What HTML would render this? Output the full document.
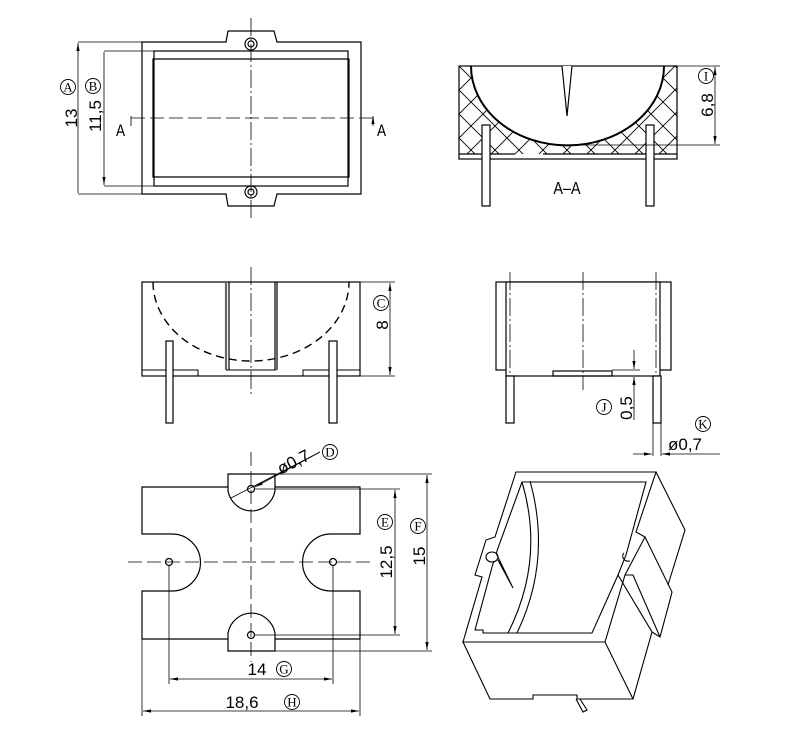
<!DOCTYPE html>
<html><head><meta charset="utf-8"><style>
html,body{margin:0;padding:0;background:#fff}
svg{display:block}
text{font-family:"Liberation Sans",sans-serif;fill:#000}
.c text{font-family:"Liberation Serif",serif}
</style></head><body>
<svg width="800" height="738" viewBox="0 0 800 738" xmlns="http://www.w3.org/2000/svg">
<defs>
<pattern id="hx" width="24" height="24" patternUnits="userSpaceOnUse" patternTransform="translate(459 66)">
<path d="M0 0L24 24M24 0L0 24" stroke="#000" stroke-width="0.9"/>
</pattern>
<marker id="ar" viewBox="0 0 10 10" refX="10" refY="5" markerWidth="8" markerHeight="8" orient="auto-start-reverse" markerUnits="userSpaceOnUse"><path d="M0 3L10 5L0 7z" fill="#000"/></marker>
<clipPath id="secclip"><rect x="459" y="66" width="218" height="88"/></clipPath>
</defs>
<g fill="none" stroke="#000" stroke-width="1.2">
<!-- TOP VIEW -->
<path d="M142 42H226L228 31H274L277 42H361V194H277L274 206H228L226 194H142Z"/>
<circle cx="251" cy="44" r="6"/><circle cx="251" cy="44" r="3"/>
<circle cx="251" cy="192" r="6"/><circle cx="251" cy="192" r="3"/>
<rect x="154" y="51" width="194" height="135"/>
<path d="M153 59H349V177H153Z"/>
<path d="M251 18V218" stroke-width="0.8" stroke-dasharray="18 3 2 3"/>
<path d="M131 118H373" stroke-width="0.8" stroke-dasharray="14 5"/>
<path d="M78 42H142M78 194H142M104 51H154M104 186H154" stroke-width="0.8"/>
<path d="M78 43V193M104 52V185" stroke-width="0.8" marker-start="url(#ar)" marker-end="url(#ar)"/>
<path d="M131 126V116M373 126V116" stroke-width="0.8" marker-end="url(#ar)"/>
<circle cx="68" cy="87" r="7.5" stroke-width="0.9"/><circle cx="93" cy="86" r="7.5" stroke-width="0.9"/>

<!-- SECTION A-A -->
<g clip-path="url(#secclip)">
<path d="M459 66H677V154H459Z M471 66A96 79 0 0 0 664 66Z" fill="url(#hx)" fill-rule="evenodd" stroke="none"/>
</g>
<rect x="459" y="66" width="218" height="93"/>
<path d="M459 154H515M543 154H677"/>
<path d="M471 66A96 79 0 0 0 664 66" stroke-width="2"/>
<path d="M562 66L567 116L572 66" fill="#fff"/>
<rect x="482" y="125" width="8" height="81" fill="#fff"/>
<rect x="646" y="125" width="8" height="81" fill="#fff"/>
<path d="M677 66H720M567 145H720" stroke-width="0.8"/>
<path d="M715 67V144" stroke-width="0.8" marker-start="url(#ar)" marker-end="url(#ar)"/>
<circle cx="706" cy="76" r="7.5" stroke-width="0.9"/>

<!-- FRONT VIEW -->
<rect x="142" y="282" width="218" height="94"/>
<path d="M226 282V370" stroke="#666" stroke-width="2.2"/>
<path d="M229 282V370M275 282V370M277 282V370"/>
<path d="M226 370H276M142 370H198V376M303 376V370H360" stroke-width="1"/>
<path d="M153 282A98 79 0 0 0 349 282" stroke-width="1.4" stroke-dasharray="8 5"/>
<path d="M251 267V395" stroke-width="0.8" stroke-dasharray="18 3 2 3"/>
<rect x="166" y="341" width="7" height="82" fill="#fff"/>
<rect x="329" y="341" width="8" height="82" fill="#fff"/>
<path d="M360 282H395M360 376H395" stroke-width="0.8"/>
<path d="M390 283V375" stroke-width="0.8" marker-start="url(#ar)" marker-end="url(#ar)"/>
<circle cx="381" cy="303" r="7.5" stroke-width="0.9"/>

<!-- SIDE VIEW -->
<rect x="496" y="282" width="175" height="88"/>
<rect x="506" y="282" width="154" height="94" fill="#fff"/>
<rect x="553" y="371" width="59" height="5"/>
<path d="M510 272V390M583 272V390M656 272V390" stroke-width="0.8" stroke-dasharray="18 3 2 3"/>
<rect x="506" y="376" width="8" height="47" fill="#fff"/>
<rect x="653" y="376" width="8" height="47" fill="#fff"/>
<path d="M612 370H640M612 376H640" stroke-width="0.8"/>
<path d="M634 350V369" stroke-width="0.8" marker-end="url(#ar)"/>
<path d="M634 420V377" stroke-width="0.8" marker-end="url(#ar)"/>
<circle cx="604" cy="407" r="7.5" stroke-width="0.9"/>
<path d="M653 423V456M661 423V456" stroke-width="0.8"/>
<path d="M633 454H652" stroke-width="0.8" marker-end="url(#ar)"/>
<path d="M720 454H662" stroke-width="0.8" marker-end="url(#ar)"/>
<circle cx="703" cy="424" r="7.5" stroke-width="0.9"/>

<!-- BOTTOM VIEW -->
<path d="M228 487H142V534H172A28 28 0 0 1 172 591H142V639H228M275 639H360V591H331A28 28 0 0 1 331 534H360V487H275"/>
<path d="M228 474H275V491A24 25 0 0 1 228 491Z"/>
<path d="M228 651H275V633A24 25 0 0 0 228 633Z"/>
<circle cx="251" cy="489" r="3.5"/><circle cx="251" cy="635" r="3.5"/>
<circle cx="169" cy="562" r="3.5"/><circle cx="333" cy="562" r="3.5"/>
<path d="M128 562H372" stroke-width="0.8" stroke-dasharray="14 5"/>
<path d="M251 452V662" stroke-width="0.8" stroke-dasharray="14 5"/>
<path d="M255 489H400M255 635H400M275 474H432M275 651H432" stroke-width="0.8"/>
<path d="M395 490V634" stroke-width="0.8" marker-start="url(#ar)" marker-end="url(#ar)"/>
<path d="M427 475V650" stroke-width="0.8" marker-start="url(#ar)" marker-end="url(#ar)"/>
<path d="M169 566V684M333 566V684M142 639V716M360 639V716" stroke-width="0.8"/>
<path d="M170 679H332" stroke-width="0.8" marker-start="url(#ar)" marker-end="url(#ar)"/>
<path d="M143 711H359" stroke-width="0.8" marker-start="url(#ar)" marker-end="url(#ar)"/>
<path d="M231 498L320 452" stroke-width="0.8"/>
<path d="M320 452L255 487" stroke-width="0.8" marker-end="url(#ar)"/>
<circle cx="330" cy="452" r="7.5" stroke-width="0.9"/>
<circle cx="385" cy="522" r="7.5" stroke-width="0.9"/>
<circle cx="418" cy="526" r="7.5" stroke-width="0.9"/>
<circle cx="284" cy="669" r="7.5" stroke-width="0.9"/>
<circle cx="292" cy="702" r="7.5" stroke-width="0.9"/>

<!-- ISOMETRIC -->
<g stroke-width="1.1">
<path d="M463 642L482 577L475 575L486 540L495 537L516 472H656L636 532L645 537L625 575L605 642Z"/>
<path d="M522 482H646L626 555L618 575L592 633H483V630H475L492 567L498 548Z"/>
<path d="M463 642H605L633 699H577V695H533V699H490Z"/>
<path d="M656 472L685 530L668 585"/>
<path d="M645 537L672 592L670 600L660 637L652 632"/>
<path d="M625 575H633L660 637M618 575L652 632L633 699"/>
<path d="M530 481Q552 560 517 633M522 482Q545 560 508 633"/>
<ellipse cx="492" cy="557" rx="6" ry="5" fill="#fff"/>
<path d="M496 553L513 588L498 560"/>
<path d="M624 553A6 5 0 0 0 630 561"/>
<path d="M576 699L583 712L587 710L580 699"/>
</g>
</g>
<g font-size="17">
<text transform="translate(116 136) scale(0.8 1)">A</text>
<text transform="translate(377 136) scale(0.8 1)">A</text>
<text transform="translate(567 194) scale(0.8 1)" text-anchor="middle" font-size="18">A–A</text>
<g class="c" font-size="13" text-anchor="middle">
<text x="68" y="91.5">A</text><text x="93" y="90.5">B</text>
<text x="706" y="80.5">I</text><text x="381" y="307.5">C</text>
<text x="604" y="411.5">J</text><text x="703" y="428.5">K</text>
<text x="330" y="456.5">D</text><text x="385" y="526.5">E</text>
<text x="418" y="530.5">F</text><text x="284" y="673.5">G</text>
<text x="292" y="706.5">H</text>
</g>
<text transform="translate(77 118) rotate(-90)" text-anchor="middle">13</text>
<text transform="translate(101 116) rotate(-90)" text-anchor="middle">11,5</text>
<text transform="translate(713 105) rotate(-90)" text-anchor="middle">6,8</text>
<text transform="translate(388 325) rotate(-90)" text-anchor="middle">8</text>
<text transform="translate(632 408) rotate(-90)" text-anchor="middle">0,5</text>
<text x="668" y="450">ø0,7</text>
<text transform="translate(392 562) rotate(-90)" text-anchor="middle">12,5</text>
<text transform="translate(425 556) rotate(-90)" text-anchor="middle">15</text>
<text transform="translate(296 467) rotate(-27)" text-anchor="middle">ø0,7</text>
<text x="257" y="675" text-anchor="middle">14</text>
<text x="242" y="708" text-anchor="middle">18,6</text>
</g>
</svg>
</body></html>
